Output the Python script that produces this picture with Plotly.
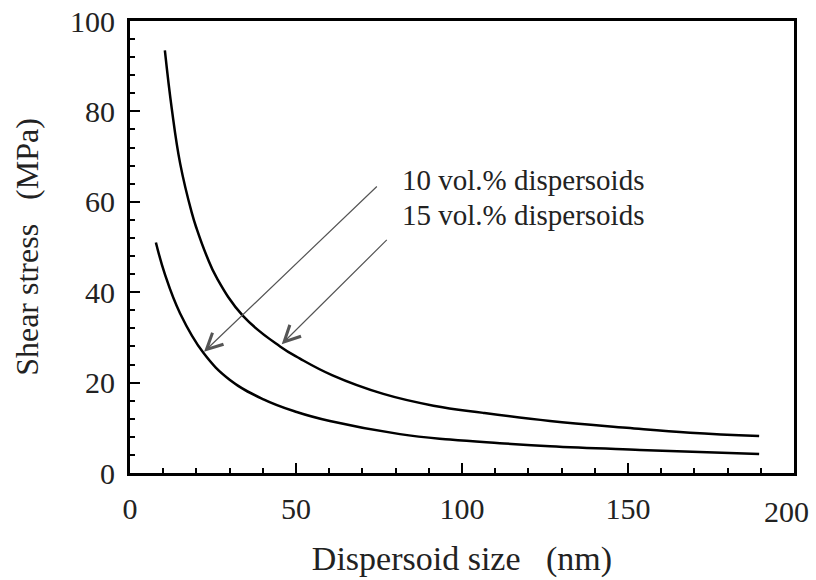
import plotly.graph_objects as go

# Data
x_15 = [10.5, 12.6, 15.1, 18.6, 20.1, 23.1, 26.1, 34.1, 45.2, 51.2, 61.0, 76.3, 91.4, 106.4, 126.5, 149.6, 168.7, 189.5]
y_15 = [93.5, 80.5, 68.5, 57.6, 54.0, 48.0, 43.2, 34.7, 28.0, 25.3, 21.6, 17.5, 14.9, 13.3, 11.5, 10.0, 8.9, 8.2]

x_10 = [7.8, 10.5, 15.1, 22.1, 30.1, 40.2, 50.2, 60.2, 81.3, 96.4, 111.4, 126.5, 153.6, 189.5]
y_10 = [51.0, 44.0, 35.3, 26.6, 20.6, 16.3, 13.5, 11.5, 8.6, 7.4, 6.6, 5.9, 5.1, 4.2]

label_10 = "10 vol.% dispersoids"
label_15 = "15 vol.% dispersoids"

x_ticks = [0, 50, 100, 150, 200]
x_ticktext = ["0", "50", "100", "150", ""]   # "200" is drawn as an annotation so it stays inside the page
x_last_label = "200"
y_ticks = [0, 20, 40, 60, 80, 100]

FONT = "Liberation Serif"

fig = go.Figure()
fig.add_trace(go.Scatter(x=x_15, y=y_15, mode="lines", name=label_15,
                         line=dict(color="black", width=2.5, shape="spline", smoothing=1.2)))
fig.add_trace(go.Scatter(x=x_10, y=y_10, mode="lines", name=label_10,
                         line=dict(color="black", width=2.5, shape="spline", smoothing=1.2)))

# text labels
fig.add_annotation(x=81.2, y=64.8, text=label_10, showarrow=False, xanchor="left", yanchor="middle",
                   font=dict(family=FONT, size=29, color="#222"))
fig.add_annotation(x=81.2, y=57.1, text=label_15, showarrow=False, xanchor="left", yanchor="middle",
                   font=dict(family=FONT, size=29, color="#222"))

# last x tick label
fig.add_annotation(x=x_ticks[-1], y=0, xref="x", yref="paper", text=x_last_label, showarrow=False,
                   xanchor="center", yanchor="top", xshift=-8, yshift=-20,
                   font=dict(family=FONT, size=30, color="#222"))

# arrows
fig.add_annotation(x=22.3, y=26.8, ax=74.8, ay=63.7, axref="x", ayref="y", xref="x", yref="y",
                   text="", showarrow=True, arrowhead=5, arrowsize=2.6, arrowwidth=1.2, arrowcolor="#555")
fig.add_annotation(x=45.7, y=28.5, ax=77.8, ay=51.9, axref="x", ayref="y", xref="x", yref="y",
                   text="", showarrow=True, arrowhead=5, arrowsize=2.6, arrowwidth=1.2, arrowcolor="#555")

fig.update_layout(
    width=816, height=580,
    margin=dict(l=130, r=22, t=21, b=107, autoexpand=False),
    paper_bgcolor="white", plot_bgcolor="white",
    showlegend=False,
    font=dict(family=FONT, color="#222"),
)
fig.update_xaxes(
    range=[0, 200], tickvals=x_ticks, ticktext=x_ticktext, ticks="inside", ticklen=10, tickwidth=2,
    tickcolor="black", ticklabeloverflow="allow",
    showline=True, linecolor="black", linewidth=3, mirror=True, showgrid=False, zeroline=False,
    automargin=False,
    tickfont=dict(family=FONT, size=30, color="#222"), ticklabelstandoff=7,
    minor=dict(dtick=10, ticks="inside", ticklen=5, tickwidth=2, tickcolor="black", showgrid=False),
    title=dict(text="Dispersoid size   (nm)", font=dict(family=FONT, size=34, color="#222"), standoff=23),
)
fig.update_yaxes(
    range=[0, 100], tickvals=y_ticks, ticks="inside", ticklen=10, tickwidth=2, tickcolor="black",
    ticklabeloverflow="allow",
    showline=True, linecolor="black", linewidth=3, mirror=True, showgrid=False, zeroline=False,
    automargin=False,
    tickfont=dict(family=FONT, size=30, color="#222"), ticklabelstandoff=6,
    minor=dict(dtick=4, ticks="inside", ticklen=5, tickwidth=2, tickcolor="black", showgrid=False),
    title=dict(text="Shear stress   (MPa)", font=dict(family=FONT, size=32, color="#222"), standoff=22),
)

fig.write_html("out.html", config={"displayModeBar": False})

# remove the browser's default body margin so the figure sits at the page origin
with open("out.html", "r", encoding="utf-8") as f:
    html = f.read()
html = html.replace("<head>", "<head><style>html,body{margin:0;padding:0;overflow:hidden;}</style>", 1)
with open("out.html", "w", encoding="utf-8") as f:
    f.write(html)
